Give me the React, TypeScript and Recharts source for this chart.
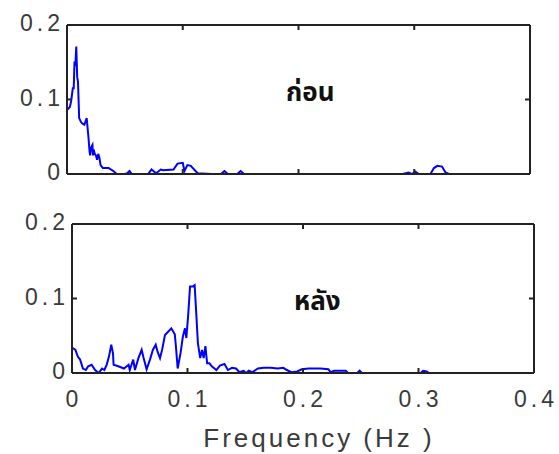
import React from "react";
import { LineChart, Line, XAxis, YAxis } from "recharts";

// spectrum before ("ก่อน")
const topFreq = [
  0, 0.0025, 0.0037, 0.005, 0.0058, 0.0065, 0.0072, 0.008, 0.0088, 0.0095,
  0.0105, 0.012, 0.013, 0.015, 0.017, 0.0185, 0.0195, 0.02, 0.021, 0.022,
  0.0225, 0.023, 0.024, 0.025, 0.026, 0.027, 0.028, 0.029, 0.031, 0.036,
  0.04, 0.043, 0.05, 0.052, 0.054, 0.056, 0.07, 0.073, 0.077, 0.081, 0.083,
  0.092, 0.0955, 0.1, 0.1015, 0.104, 0.107, 0.111, 0.113, 0.125, 0.133,
  0.136, 0.139, 0.147, 0.15, 0.153, 0.29, 0.295, 0.298, 0.301, 0.304, 0.314,
  0.317, 0.32, 0.324, 0.327, 0.33, 0.4,
];
const topAmp = [
  0.086, 0.09, 0.099, 0.115, 0.115, 0.151, 0.145, 0.171, 0.13, 0.124, 0.075,
  0.07, 0.068, 0.066, 0.075, 0.05, 0.03, 0.025, 0.036, 0.039, 0.025, 0.033,
  0.027, 0.025, 0.019, 0.027, 0.022, 0.012, 0.008, 0.008, 0.004, 0, 0,
  0.001, 0.004, 0, 0, 0.006, 0.001, 0.006, 0.005, 0.006, 0.014, 0.015,
  0.004, 0.012, 0.011, 0.004, 0.001, 0, 0, 0.004, 0, 0, 0.004, 0, 0, 0.002,
  0, 0.003, 0, 0, 0.008, 0.011, 0.01, 0.002, 0, 0,
];

// spectrum after ("หลัง")
const bottomFreq = [
  0, 0.003, 0.005, 0.007, 0.0095, 0.012, 0.014, 0.017, 0.02, 0.023, 0.026,
  0.028, 0.03, 0.032, 0.034, 0.0355, 0.036, 0.04, 0.045, 0.049, 0.05, 0.053,
  0.0545, 0.0575, 0.0603, 0.062, 0.0646, 0.0675, 0.07, 0.0725, 0.074,
  0.0762, 0.078, 0.0805, 0.083, 0.086, 0.089, 0.09, 0.0915, 0.094, 0.096,
  0.0978, 0.099, 0.1007, 0.1022, 0.1045, 0.1062, 0.1074, 0.109, 0.111,
  0.1126, 0.114, 0.1155, 0.117, 0.119, 0.121, 0.125, 0.128, 0.132, 0.135,
  0.1385, 0.142, 0.145, 0.1485, 0.151, 0.153, 0.156, 0.161, 0.166, 0.172,
  0.178, 0.183, 0.186, 0.19, 0.195, 0.199, 0.205, 0.215, 0.222, 0.224,
  0.227, 0.237, 0.239, 0.247, 0.249, 0.251, 0.302, 0.304, 0.307, 0.309, 0.4,
];
const bottomAmp = [
  0.034, 0.031, 0.022, 0.018, 0.006, 0.004, 0.009, 0.011, 0.004, 0, 0.006,
  0.004, 0.011, 0.022, 0.038, 0.026, 0.011, 0.009, 0.006, 0.011, 0.004,
  0.018, 0.004, 0.02, 0.031, 0.02, 0.005, 0.018, 0.031, 0.038, 0.029, 0.02,
  0.031, 0.051, 0.055, 0.06, 0.052, 0.035, 0.006, 0.027, 0.049, 0.06, 0.047,
  0.08, 0.116, 0.116, 0.118, 0.085, 0.04, 0.02, 0.031, 0.02, 0.036, 0.013,
  0.013, 0.009, 0.004, 0.01, 0.012, 0.004, 0.007, 0.006, 0.001, 0.003, 0,
  0.003, 0.001, 0.006, 0.007, 0.007, 0.006, 0.007, 0.004, 0.001, 0.002,
  0.005, 0.006, 0.006, 0.005, 0.001, 0.003, 0.003, 0, 0, 0.003, 0, 0, 0.003,
  0.002, 0, 0,
];

const xTicks = [0, 0.1, 0.2, 0.3, 0.4];
const yTicks = [0, 0.1, 0.2];
const xLabel = "Frequency (Hz )";

const AXIS = "#222";
const TEXT = "#3a3a3a";
const FONT = "'Liberation Sans', Arial, sans-serif";

const toRows = (fs: number[], as: number[]) =>
  fs.map((f, i) => ({ f, amp: as[i] }));

const topData = toRows(topFreq, topAmp);
const bottomData = toRows(bottomFreq, bottomAmp);

const labelStyle = {
  fontFamily: FONT,
  fontSize: 23,
  fill: TEXT,
  letterSpacing: 4,
};

const bottomTick = (showLabel: boolean) => (p: any) => (
  <g>
    <line x1={p.x} y1={p.y} x2={p.x} y2={p.y - 5} stroke={AXIS} strokeWidth={2} />
    {showLabel && (
      <text x={p.x + 2} y={p.y + 34} textAnchor="middle" {...labelStyle}>
        {String(p.payload.value)}
      </text>
    )}
  </g>
);

const topTick = (p: any) => (
  <line x1={p.x} y1={p.y} x2={p.x} y2={p.y + 5} stroke={AXIS} strokeWidth={2} />
);

const leftTick = (p: any) => (
  <g>
    <line x1={p.x} y1={p.y} x2={p.x + 5} y2={p.y} stroke={AXIS} strokeWidth={2} />
    <text x={p.x - 3} y={p.y + 6} textAnchor="end" {...labelStyle}>
      {String(p.payload.value)}
    </text>
  </g>
);

const rightTick = (p: any) => (
  <line x1={p.x} y1={p.y} x2={p.x - 5} y2={p.y} stroke={AXIS} strokeWidth={2} />
);

function Panel({
  data,
  width,
  height,
  margin,
  leftW,
  showX,
}: {
  data: { f: number; amp: number }[];
  width: number;
  height: number;
  margin: { top: number; right: number; bottom: number; left: number };
  leftW: number;
  showX: boolean;
}) {
  const axisLine = { stroke: AXIS, strokeWidth: 2 };
  return (
    <LineChart width={width} height={height} data={data} margin={margin}>
      <XAxis
        xAxisId="b"
        dataKey="f"
        type="number"
        domain={[0, 0.4]}
        ticks={xTicks}
        interval={0}
        allowDataOverflow
        height={1}
        tickSize={0}
        tickMargin={0}
        tickLine={false}
        axisLine={axisLine}
        tick={bottomTick(showX)}
        label={
          showX
            ? {
                value: xLabel,
                position: "bottom",
                offset: 55,
                dx: 16,
                style: { ...labelStyle, fontSize: 26, letterSpacing: 3 },
              }
            : undefined
        }
      />
      <XAxis
        xAxisId="t"
        orientation="top"
        dataKey="f"
        type="number"
        domain={[0, 0.4]}
        ticks={xTicks}
        interval={0}
        allowDataOverflow
        height={1}
        tickSize={0}
        tickMargin={0}
        tickLine={false}
        axisLine={axisLine}
        tick={topTick}
      />
      <YAxis
        yAxisId="l"
        type="number"
        domain={[0, 0.2]}
        ticks={yTicks}
        interval={0}
        allowDataOverflow
        width={leftW}
        tickSize={0}
        tickMargin={0}
        tickLine={false}
        axisLine={axisLine}
        tick={leftTick}
      />
      <YAxis
        yAxisId="r"
        orientation="right"
        type="number"
        domain={[0, 0.2]}
        ticks={yTicks}
        interval={0}
        allowDataOverflow
        width={1}
        tickSize={0}
        tickMargin={0}
        tickLine={false}
        axisLine={axisLine}
        tick={rightTick}
      />
      <Line
        xAxisId="b"
        yAxisId="l"
        type="linear"
        dataKey="amp"
        stroke="#0000ff"
        strokeWidth={2}
        dot={false}
        isAnimationActive={false}
      />
    </LineChart>
  );
}

const thaiStyle: React.CSSProperties = {
  position: "absolute",
  fontFamily: "'Noto Sans Thai', 'Tlwg Typo', 'Loma', sans-serif",
  fontWeight: 700,
  fontSize: 26,
  color: "#111",
  lineHeight: 1,
};

export default function App() {
  return (
    <div
      style={{
        position: "absolute",
        left: 0,
        top: 0,
        width: 559,
        height: 454,
        background: "#fff",
        overflow: "hidden",
      }}
    >
      <div style={{ position: "absolute", left: 0, top: 0 }}>
        <Panel
          data={topData}
          width={559}
          height={200}
          margin={{ top: 24, right: 28, bottom: 25, left: 0 }}
          leftW={67}
          showX={false}
        />
      </div>
      <div style={{ position: "absolute", left: 0, top: 200 }}>
        <Panel
          data={bottomData}
          width={559}
          height={254}
          margin={{ top: 23, right: 24, bottom: 80, left: 0 }}
          leftW={72}
          showX={true}
        />
      </div>
      <div style={{ ...thaiStyle, left: 286, top: 80 }}>ก่อน</div>
      <div style={{ ...thaiStyle, left: 294, top: 289 }}>หลัง</div>
    </div>
  );
}
